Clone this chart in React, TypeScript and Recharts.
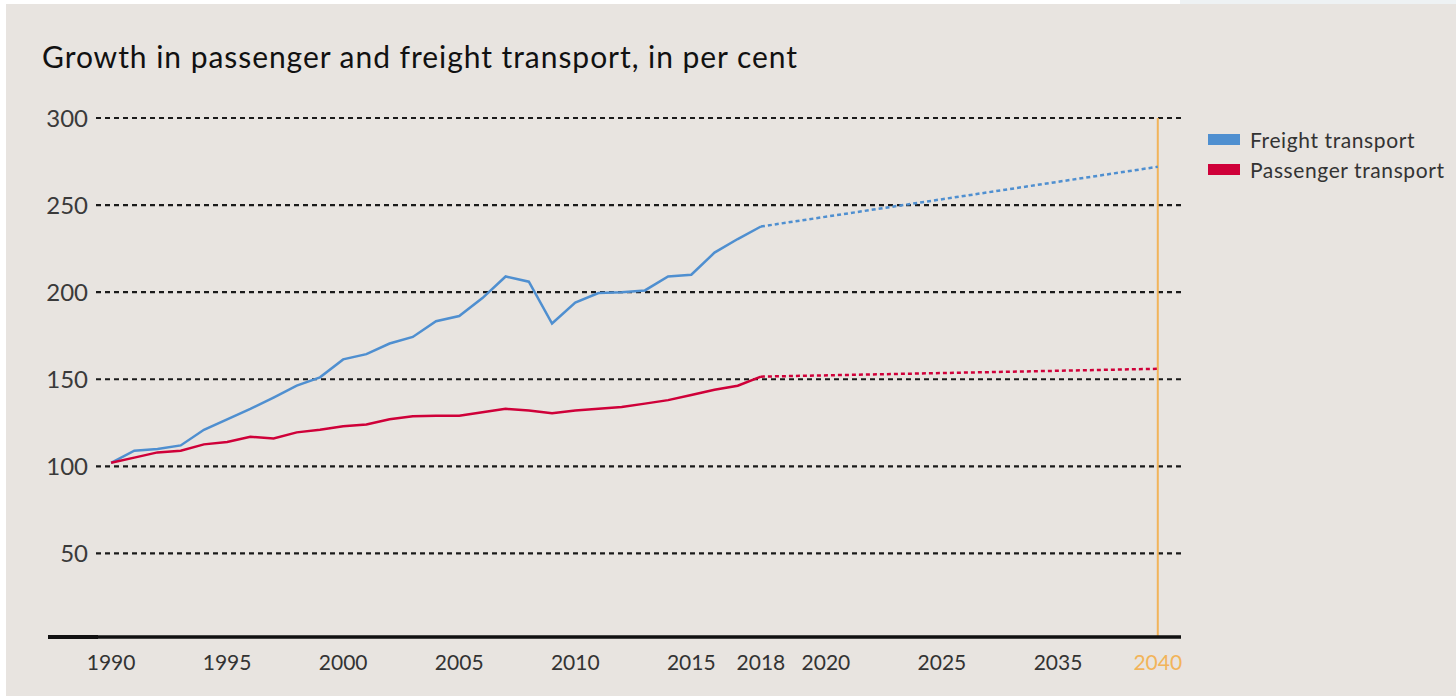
import React from 'react';
import { LineChart, Line, XAxis, YAxis, CartesianGrid, ReferenceLine } from 'recharts';

const historyYears = [
  1990, 1991, 1992, 1993, 1994, 1995, 1996, 1997, 1998, 1999,
  2000, 2001, 2002, 2003, 2004, 2005, 2006, 2007, 2008, 2009,
  2010, 2011, 2012, 2013, 2014, 2015, 2016, 2017, 2018,
];
const freight = [
  102, 109, 110, 112, 121, 127, 133, 139.5, 146.3, 151.1,
  161.4, 164.4, 170.5, 174.3, 183.3, 186.3, 196.6, 209, 206, 182,
  194, 199.5, 200, 201, 209, 210, 222.7, 230.5, 237.7,
];
const passenger = [
  102, 105, 108, 109, 112.6, 114, 117, 116, 119.5, 121,
  123, 124, 127, 128.7, 129, 129, 131, 133, 132, 130.5,
  132, 133, 134, 136, 138, 141, 144, 146.3, 151.5,
];
const forecastYears = [2018, 2040];
const freightForecast = [237.7, 272];
const passengerForecast = [151.5, 156];

// x axis is not linear in years: labels and where they sit (in axis units)
const tickYears = [1990, 1995, 2000, 2005, 2010, 2015, 2018, 2020, 2025, 2035, 2040];
const tickSlots = [0, 5, 10, 15, 20, 25, 28, 30.8, 35.8, 40.8, 45.1];
const yTicks = [50, 100, 150, 200, 250, 300];

const legendItems = [
  { name: 'Freight transport', color: '#4f8fd0' },
  { name: 'Passenger transport', color: '#cf0039' },
];

const BLUE = '#4f8fd0';
const RED = '#cf0039';
const ORANGE = '#f2b45a';
const FONT = 'Lato, "Open Sans", sans-serif';

const toSlot = (year: number) => {
  for (let i = 0; i < tickYears.length - 1; i++) {
    const a = tickYears[i], b = tickYears[i + 1];
    if (year >= a && year <= b) {
      return tickSlots[i] + ((year - a) / (b - a)) * (tickSlots[i + 1] - tickSlots[i]);
    }
  }
  return tickSlots[tickSlots.length - 1];
};

const freightData = historyYears.map((y, i) => ({ x: toSlot(y), v: freight[i] }));
const passengerData = historyYears.map((y, i) => ({ x: toSlot(y), v: passenger[i] }));
const freightFcData = forecastYears.map((y, i) => ({ x: toSlot(y), v: freightForecast[i] }));
const passengerFcData = forecastYears.map((y, i) => ({ x: toSlot(y), v: passengerForecast[i] }));

const XTick = (props: any) => {
  const { x, y, payload } = props;
  const idx = tickSlots.indexOf(payload.value);
  const label = idx >= 0 ? tickYears[idx] : '';
  return (
    <text
      x={x}
      y={y}
      dy="0.71em"
      textAnchor="middle"
      fontSize={21}
      fontFamily={FONT}
      fill={label === 2040 ? ORANGE : '#333'}
    >
      {label}
    </text>
  );
};

export default function App() {
  return (
    <div style={{ position: 'absolute', left: 0, top: 0, width: 1456, height: 696, background: '#fff', overflow: 'hidden' }}>
      <div style={{ position: 'absolute', left: 1180, top: 0, width: 276, height: 5, background: '#eef2f4' }} />
      <div style={{ position: 'absolute', left: 6, top: 4, width: 1450, height: 692, background: '#e8e4e0' }} />
      <div
        style={{
          position: 'absolute',
          left: 42,
          top: 41,
          fontSize: 30,
          letterSpacing: 0.95,
          lineHeight: 1,
          fontFamily: FONT,
          color: '#111',
          whiteSpace: 'nowrap',
        }}
      >
        Growth in passenger and freight transport, in per cent
      </div>
      <div style={{ position: 'absolute', left: 48, top: 635, width: 50, height: 3.5, background: '#111' }} />
      <div style={{ position: 'absolute', left: 1208, top: 125 }}>
        {legendItems.map((it) => (
          <div key={it.name} style={{ display: 'flex', alignItems: 'center', height: 29.5 }}>
            <div style={{ width: 32, height: 11, background: it.color, marginRight: 10 }} />
            <span style={{ fontFamily: FONT, fontSize: 21, letterSpacing: 0.6, color: '#333', lineHeight: 1 }}>{it.name}</span>
          </div>
        ))}
      </div>
      <div style={{ position: 'absolute', left: 0, top: 0 }}>
        <LineChart width={1456} height={696} margin={{ top: 118, right: 275, bottom: 19, left: 36 }}>
          <CartesianGrid horizontal vertical={false} stroke="#1a1a1a" strokeWidth={2.2} strokeDasharray="5 4" />
          <XAxis
            type="number"
            dataKey="x"
            domain={[-0.65, 46.1]}
            ticks={tickSlots}
            tick={<XTick />}
            tickLine={false}
            tickSize={0}
            tickMargin={18}
            height={40}
            axisLine={{ stroke: '#111', strokeWidth: 3.5 }}
            allowDataOverflow
          />
          <YAxis
            type="number"
            domain={[2, 300]}
            ticks={yTicks}
            width={60}
            tickLine={false}
            axisLine={false}
            tickSize={0}
            tickMargin={8}
            tick={{ fontSize: 24, fontFamily: FONT, fill: '#3a3a3a' }}
            allowDataOverflow
          />
          <ReferenceLine x={toSlot(2040)} stroke={ORANGE} strokeWidth={2} />
          <Line data={freightFcData} dataKey="v" stroke={BLUE} strokeWidth={2.5} strokeDasharray="4 3" dot={false} isAnimationActive={false} />
          <Line data={passengerFcData} dataKey="v" stroke={RED} strokeWidth={2.5} strokeDasharray="4 3" dot={false} isAnimationActive={false} />
          <Line data={freightData} dataKey="v" stroke={BLUE} strokeWidth={2.5} dot={false} isAnimationActive={false} />
          <Line data={passengerData} dataKey="v" stroke={RED} strokeWidth={2.5} dot={false} isAnimationActive={false} />
        </LineChart>
      </div>
    </div>
  );
}
